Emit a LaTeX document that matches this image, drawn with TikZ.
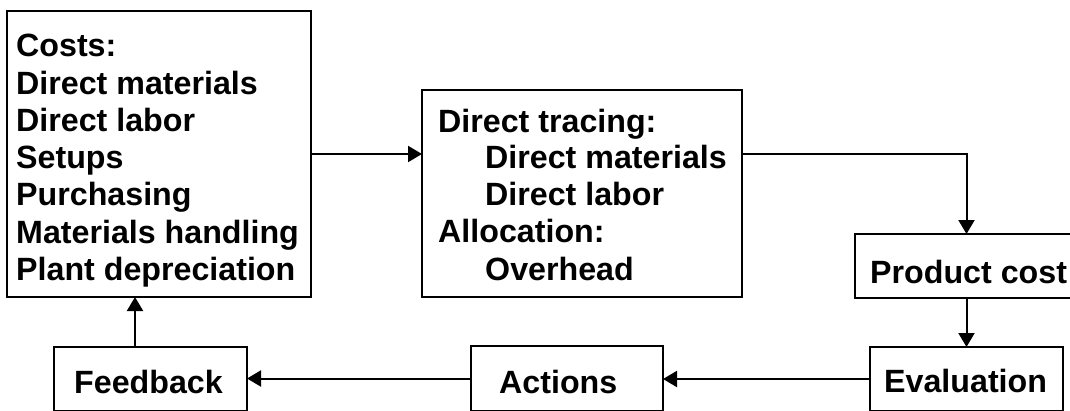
\documentclass[tikz,border=0pt]{standalone}
\usepackage{fontspec}
\setmainfont{Liberation Sans}
\usetikzlibrary{arrows.meta}
\begin{document}
\begin{tikzpicture}[x=1pt,y=-1pt,
  box/.style={draw, line width=1.8pt, inner sep=0pt, outer sep=0pt, rectangle},
  txt/.style={anchor=base west, inner sep=0pt, font=\fontsize{32.2}{38}\selectfont\bfseries},
  arr/.style={line width=2pt, -{Triangle[length=14pt,width=16pt]}}]
\useasboundingbox (0,0) rectangle (1070,410);
% boxes
\node[box, minimum width=304pt, minimum height=286pt] (costs) at (159,154) {};
\node[box, minimum width=320pt, minimum height=207pt] (trace) at (582,193.5) {};
\node[box, minimum width=223pt, minimum height=64pt] (prod) at (966.5,266) {};
\node[box, minimum width=193pt, minimum height=64pt] (eval) at (966.5,379) {};
\node[box, minimum width=192pt, minimum height=65pt] (actions) at (567,378.5) {};
\node[box, minimum width=193pt, minimum height=64pt] (feedback) at (150.5,379) {};
% texts
\node[txt] (c1) at (16,56) {Costs:};
\node[txt] (c2) at (16,94) {Direct materials};
\node[txt] (c3) at (16,131) {Direct labor};
\node[txt] (c4) at (16,168) {Setups};
\node[txt] (c5) at (16,205) {Purchasing};
\node[txt] (c6) at (16,243) {Materials handling};
\node[txt] (c7) at (16,280) {Plant depreciation};
\node[txt] (t1) at (438,132) {Direct tracing:};
\node[txt] (t2) at (485,168) {Direct materials};
\node[txt] (t3) at (485,205) {Direct labor};
\node[txt] (t4) at (438,242) {Allocation:};
\node[txt] (t5) at (485,280) {Overhead};
\node[txt] (p1) at (870,283) {Product cost};
\node[txt] (e1) at (884,392) {Evaluation};
\node[txt] (a1) at (499,393) {Actions};
\node[txt] (f1) at (74,393) {Feedback};
% connectors
\draw[arr] (costs.east) -- (costs.east -| trace.west);
\draw[arr] (trace.east |- costs.east) -| (prod.north);
\draw[arr] (prod.south) -- (eval.north);
\draw[arr] (eval.west) -- (eval.west -| actions.east);
\draw[arr] (actions.west) -- (actions.west -| feedback.east);
\draw[arr] ([xshift=-15.5pt]feedback.north) -- ([xshift=-15.5pt]feedback.north |- costs.south);
\end{tikzpicture}
\end{document}
